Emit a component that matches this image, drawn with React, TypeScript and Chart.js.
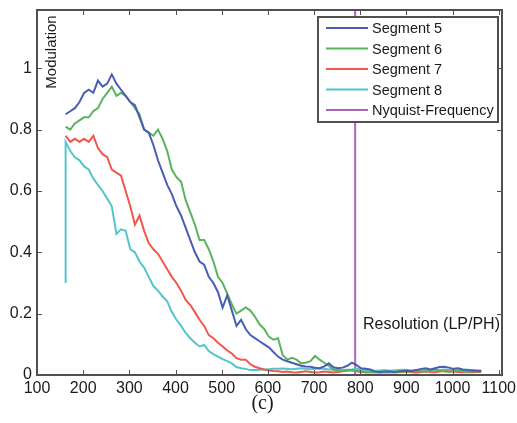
import React, { useEffect, useRef } from "react";
import { Chart, registerables } from "chart.js";

Chart.register(...registerables);

// Resolution (LP/PH) sample positions
const resolution = [
  162, 172, 182, 192, 202, 212, 222, 232, 242, 252,
  262, 272, 282, 292, 302, 312, 322, 332, 342, 352,
  362, 372, 382, 392, 402, 412, 422, 432, 442, 452,
  462, 472, 482, 492, 502, 512, 522, 532, 542, 552,
  562, 572, 582, 592, 602, 612, 622, 632, 642, 652,
  662, 672, 682, 692, 702, 712, 722, 732, 742, 752,
  762, 772, 782, 792, 802, 812, 822, 832, 842, 852,
  862, 872, 882, 892, 902, 912, 922, 932, 942, 952,
  962, 972, 982, 992, 1002, 1012, 1022, 1032, 1042, 1052,
  1062,
];

const segment5 = [
  0.85, 0.86, 0.87, 0.89, 0.92, 0.93, 0.92, 0.96, 0.94, 0.95,
  0.98, 0.95, 0.93, 0.91, 0.89, 0.88, 0.84, 0.8, 0.79, 0.75,
  0.7, 0.66, 0.62, 0.59, 0.55, 0.52, 0.48, 0.44, 0.4, 0.37,
  0.36, 0.32, 0.3, 0.27, 0.22, 0.26, 0.21, 0.16, 0.18, 0.15,
  0.13, 0.12, 0.11, 0.1, 0.09, 0.075, 0.06, 0.05, 0.045, 0.04,
  0.035, 0.03, 0.028, 0.027, 0.024, 0.022, 0.028, 0.038, 0.025, 0.022,
  0.024, 0.03, 0.04, 0.032, 0.022, 0.02, 0.018, 0.011, 0.01, 0.011,
  0.012, 0.01, 0.011, 0.013, 0.014, 0.013, 0.016, 0.02, 0.022, 0.018,
  0.022, 0.026, 0.027, 0.024, 0.02, 0.022, 0.018, 0.016, 0.015, 0.014,
  0.013,
];

const segment6 = [
  0.81, 0.8, 0.82, 0.83, 0.84, 0.84, 0.86, 0.87, 0.9, 0.92,
  0.94, 0.91, 0.92, 0.91, 0.89, 0.87, 0.85, 0.8, 0.79, 0.78,
  0.8, 0.77, 0.73, 0.67, 0.645, 0.63, 0.57, 0.53, 0.49, 0.44,
  0.44, 0.41, 0.37, 0.32, 0.3, 0.265, 0.23, 0.2, 0.21, 0.22,
  0.21, 0.19, 0.165, 0.15, 0.125, 0.115, 0.12, 0.065, 0.05, 0.056,
  0.05, 0.038, 0.04, 0.045, 0.062, 0.05, 0.04, 0.03, 0.016, 0.015,
  0.014, 0.016, 0.015, 0.014, 0.012, 0.01, 0.009, 0.01, 0.009, 0.01,
  0.009, 0.01, 0.012, 0.011, 0.01, 0.012, 0.014, 0.012, 0.01, 0.016,
  0.018, 0.015, 0.012, 0.01, 0.012, 0.014, 0.012, 0.01, 0.011, 0.012,
  0.012,
];

const segment7 = [
  0.78, 0.76, 0.77, 0.76, 0.77, 0.76, 0.78, 0.74, 0.72, 0.71,
  0.67, 0.66, 0.65, 0.6, 0.55, 0.49, 0.52, 0.47, 0.43, 0.41,
  0.395, 0.37, 0.345, 0.32, 0.3, 0.275, 0.245, 0.228, 0.205, 0.18,
  0.16, 0.13, 0.12, 0.105, 0.093, 0.08, 0.07, 0.055, 0.05, 0.05,
  0.035, 0.027, 0.022, 0.018, 0.015, 0.013, 0.012, 0.01, 0.011, 0.009,
  0.008, 0.01, 0.012, 0.01, 0.008, 0.009, 0.011, 0.01, 0.008, 0.01,
  0.012, 0.014, 0.016, 0.012, 0.01, 0.008, 0.009, 0.01, 0.008, 0.009,
  0.01, 0.008, 0.009, 0.01, 0.011, 0.009, 0.008, 0.01, 0.012, 0.01,
  0.009, 0.011, 0.013, 0.012, 0.011, 0.01, 0.009, 0.01, 0.009, 0.01,
  0.01,
];

// Segment 8 begins with a vertical jump from this value at the first resolution
const segment8Lead = [0.3];
const segment8 = [
  0.76, 0.73, 0.71, 0.7, 0.68, 0.67, 0.64, 0.62, 0.6, 0.575,
  0.55, 0.46, 0.475, 0.47, 0.41, 0.4, 0.37, 0.35, 0.32, 0.29,
  0.275, 0.256, 0.24, 0.205, 0.18, 0.16, 0.137, 0.12, 0.105, 0.093,
  0.098, 0.078, 0.068, 0.06, 0.052, 0.045, 0.038, 0.026, 0.022, 0.02,
  0.016, 0.016, 0.017, 0.018, 0.019, 0.02, 0.02, 0.021, 0.02, 0.019,
  0.02, 0.022, 0.02, 0.019, 0.02, 0.021, 0.02, 0.018, 0.019, 0.018,
  0.016, 0.017, 0.018, 0.02, 0.018, 0.016, 0.015, 0.014, 0.015, 0.016,
  0.014, 0.015, 0.016, 0.017, 0.016, 0.015, 0.016, 0.017, 0.018, 0.016,
  0.015, 0.016, 0.018, 0.017, 0.016, 0.015, 0.016, 0.017, 0.016, 0.015,
  0.015,
];

const nyquistFrequency = 789;
const nyquistSpan = [0, 1.19];

const seriesLabels = ["Segment 5", "Segment 6", "Segment 7", "Segment 8", "Nyquist-Frequency"];
const seriesColors = ["#4a5db6", "#5bb25f", "#f0574d", "#55c5cd", "#b261c0"];

const xTicks = [100, 200, 300, 400, 500, 600, 700, 800, 900, 1000, 1100];
const yTicks = [0, 0.2, 0.4, 0.6, 0.8, 1];
const yTickLabels = ["0", "0.2", "0.4", "0.6", "0.8", "1"];
const xMin = 100;
const xMax = 1107;
const yMax = 1.19;

const FONT = "'Liberation Sans', Arial, Helvetica, sans-serif";
const FRAME = "#505050";

const toPoints = (ys: number[]) => ys.map((y, i) => ({ x: resolution[i], y }));

const decorPlugin = {
  id: "decor",
  afterDatasetsDraw(chart: any) {
    const { ctx, chartArea: a, scales } = chart;
    const xs = scales.x;
    const ys = scales.y;
    ctx.save();

    // inward ticks
    ctx.strokeStyle = FRAME;
    ctx.lineWidth = 1;
    const tl = 5;
    ctx.beginPath();
    xTicks.forEach((v) => {
      const px = Math.round(xs.getPixelForValue(v)) + 0.5;
      ctx.moveTo(px, a.bottom);
      ctx.lineTo(px, a.bottom - tl);
      ctx.moveTo(px, a.top);
      ctx.lineTo(px, a.top + tl);
    });
    yTicks.forEach((v) => {
      const py = Math.round(ys.getPixelForValue(v)) + 0.5;
      ctx.moveTo(a.left, py);
      ctx.lineTo(a.left + tl, py);
      ctx.moveTo(a.right, py);
      ctx.lineTo(a.right - tl, py);
    });
    ctx.stroke();

    // frame
    ctx.lineWidth = 2;
    ctx.strokeRect(a.left, a.top, a.right - a.left, a.bottom - a.top);

    // axis labels inside the plot
    ctx.fillStyle = "#1a1a1a";
    ctx.font = `15px ${FONT}`;
    ctx.save();
    ctx.translate(a.left + 15, a.top + 42);
    ctx.rotate(-Math.PI / 2);
    ctx.textAlign = "center";
    ctx.textBaseline = "middle";
    ctx.fillText("Modulation", 0, 0);
    ctx.restore();

    ctx.font = `16px ${FONT}`;
    ctx.textAlign = "right";
    ctx.textBaseline = "middle";
    ctx.fillText("Resolution (LP/PH)", a.right - 2, a.bottom - 50);

    // caption
    ctx.font = "20px 'Liberation Serif', 'Times New Roman', serif";
    ctx.textAlign = "center";
    ctx.textBaseline = "middle";
    ctx.fillText("(c)", (a.left + a.right) / 2 - 7, a.bottom + 29);

    // legend
    const bw = 180;
    const bh = 105;
    const bx = a.right - 4 - bw;
    const by = a.top + 7;
    ctx.fillStyle = "#ffffff";
    ctx.fillRect(bx, by, bw, bh);
    ctx.strokeStyle = FRAME;
    ctx.lineWidth = 2;
    ctx.strokeRect(bx, by, bw, bh);
    ctx.font = `14.5px ${FONT}`;
    ctx.textAlign = "left";
    ctx.textBaseline = "middle";
    chart.data.datasets.forEach((ds: any, i: number) => {
      const ry = by + 11 + i * 20.5;
      ctx.strokeStyle = ds.borderColor;
      ctx.lineWidth = 2;
      ctx.beginPath();
      ctx.moveTo(bx + 8, ry);
      ctx.lineTo(bx + 50, ry);
      ctx.stroke();
      ctx.fillStyle = "#1a1a1a";
      ctx.fillText(ds.label, bx + 54, ry + 1);
    });

    ctx.restore();
  },
};

export default function App() {
  const ref = useRef<HTMLCanvasElement | null>(null);

  useEffect(() => {
    if (!ref.current) return;
    const seg8Points = [
      { x: resolution[0], y: segment8Lead[0] },
      ...toPoints(segment8),
    ];
    const nyq = nyquistSpan.map((y) => ({ x: nyquistFrequency, y }));
    const allData = [
      toPoints(segment5),
      toPoints(segment6),
      toPoints(segment7),
      seg8Points,
      nyq,
    ];
    const chart = new Chart(ref.current, {
      type: "line",
      data: {
        datasets: allData.map((d, i) => ({
          label: seriesLabels[i],
          data: d,
          borderColor: seriesColors[i],
          backgroundColor: seriesColors[i],
          borderWidth: 2,
          pointRadius: 0,
          tension: 0,
          fill: false,
        })),
      },
      options: {
        responsive: false,
        animation: false,
        events: [],
        layout: { padding: { left: 0, right: 15, top: 10, bottom: 0 } },
        plugins: {
          legend: { display: false },
          tooltip: { enabled: false },
          title: { display: false },
        },
        scales: {
          x: {
            type: "linear",
            min: xMin,
            max: xMax,
            grid: { display: false, drawTicks: false },
            border: { display: false },
            ticks: {
              padding: 4,
              color: "#1a1a1a",
              font: { family: FONT, size: 16 },
              maxRotation: 0,
              minRotation: 0,
              autoSkip: false,
              callback: (v: any) => String(Math.round(Number(v))),
            },
            afterBuildTicks: (s: any) => {
              s.ticks = xTicks.map((v) => ({ value: v }));
            },
            afterFit: (s: any) => {
              s.height = 48;
              s.paddingLeft = 0;
              s.paddingRight = 0;
            },
          },
          y: {
            type: "linear",
            min: 0,
            max: yMax,
            grid: { display: false, drawTicks: false },
            border: { display: false },
            ticks: {
              padding: 5,
              color: "#1a1a1a",
              font: { family: FONT, size: 16 },
              autoSkip: false,
              callback: (v: any, i: number) => yTickLabels[i] ?? String(v),
            },
            afterBuildTicks: (s: any) => {
              s.ticks = yTicks.map((v) => ({ value: v }));
            },
            afterFit: (s: any) => {
              s.width = 37;
              s.paddingTop = 0;
              s.paddingBottom = 0;
            },
          },
        },
      },
      plugins: [decorPlugin],
    });
    return () => chart.destroy();
  }, []);

  return (
    <div style={{ position: "absolute", left: 0, top: 0, width: 517, height: 423, background: "#fff" }}>
      <canvas ref={ref} width={517} height={423} style={{ display: "block" }} />
    </div>
  );
}
